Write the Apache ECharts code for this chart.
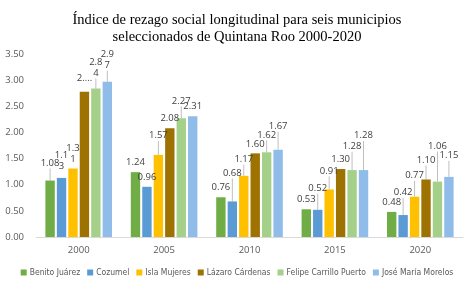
<!DOCTYPE html>
<html><head><meta charset="utf-8">
<script src="https://cdn.jsdelivr.net/npm/echarts@6/dist/echarts.min.js"></script>
<style>html,body{margin:0;padding:0;background:#fff}#c{width:474px;height:286px}</style>
</head><body><div id="c"></div>
<script>
const years = ['2000', '2005', '2010', '2015', '2020'];
const seriesNames = ['Benito Juárez', 'Cozumel', 'Isla Mujeres', 'Lázaro Cárdenas', 'Felipe Carrillo Puerto', 'José María Morelos'];
const benitoJuarez = [1.08, 1.24, 0.76, 0.53, 0.48];
const cozumel = [1.13, 0.96, 0.68, 0.52, 0.42];
const islaMujeres = [1.31, 1.57, 1.17, 0.91, 0.77];
const lazaroCardenas = [2.78, 2.08, 1.60, 1.30, 1.10];
const felipeCarrilloPuerto = [2.84, 2.27, 1.62, 1.28, 1.06];
const joseMariaMorelos = [2.97, 2.31, 1.67, 1.28, 1.15];
const yTicks = [0, 0.5, 1, 1.5, 2, 2.5, 3, 3.5];

const values = [benitoJuarez, cozumel, islaMujeres, lazaroCardenas, felipeCarrilloPuerto, joseMariaMorelos];
const colors = ['#70AD47', '#5B9BD5', '#FFC000', '#9E7200', '#A5D08A', '#8FBCE8'];
const labelLift = [
  [8, 0, 0, 0, 0],
  [2, 0, 19, 12, 13],
  [0, 10, 7, 9, 12],
  [4, 0, 0, 0, 10],
  [6, 8, 8, 14, 26],
  [7, 0, 14, 25, 12]
];
function labelText(si, di, v) {
  const s = v.toFixed(2);
  if (di === 0) {
    if (si === 3) return s.charAt(0) + '....';
    if (si > 0) return s.slice(0, 3) + '\n' + s.slice(3);
  }
  return s;
}
const font = 'Open Sans';
const legendFont = "'DejaVu Sans Condensed', 'Liberation Sans'";
const chart = echarts.init(document.getElementById('c'), null, {renderer: 'canvas'});
chart.setOption({
  animation: false,
  title: {
    text: 'Índice de rezago social longitudinal para seis municipios\nseleccionados de Quintana Roo 2000-2020',
    left: 'center', top: 7,
    textStyle: {fontFamily: 'Liberation Serif', fontSize: 14.5, fontWeight: 'normal', color: '#000', lineHeight: 17}
  },
  legend: {
    bottom: 9, left: 'center', width: 474, padding: 0, icon: 'rect', itemWidth: 6, itemHeight: 6, itemGap: 7,
    textStyle: {fontFamily: legendFont, fontSize: 8.5, color: '#595959', padding: [0, 0, 0, -2]},
    data: seriesNames
  },
  grid: {left: 36, right: 11, top: 54, bottom: 49},
  xAxis: {
    type: 'category', data: years,
    axisLine: {lineStyle: {color: '#d9d9d9'}}, axisTick: {show: false},
    axisLabel: {fontFamily: font, fontSize: 9.5, color: '#595959', margin: 8}
  },
  yAxis: {
    type: 'value', min: 0, max: 3.5, interval: 0.5,
    axisLabel: {fontFamily: font, fontSize: 9.5, color: '#595959', formatter: v => v.toFixed(2), margin: 12},
    splitLine: {show: false}, axisLine: {show: false}, axisTick: {show: false}
  },
  series: values.map((arr, si) => ({
    name: seriesNames[si], type: 'bar', barGap: '22%', barCategoryGap: '22%',
    itemStyle: {color: colors[si]},
    data: arr.map((v, di) => ({value: v, labelLine: {show: labelLift[si][di] > 5}})),
    label: {
      show: true, position: 'top', distance: 4,
      fontFamily: font, fontSize: 9.5, color: '#404040', lineHeight: 11,
      formatter: p => labelText(si, p.dataIndex, p.value)
    },
    labelLine: {lineStyle: {color: '#bfbfbf', width: 1}},
    labelLayout: p => ({dy: -labelLift[si][p.dataIndex]})
  }))
});
</script></body></html>
